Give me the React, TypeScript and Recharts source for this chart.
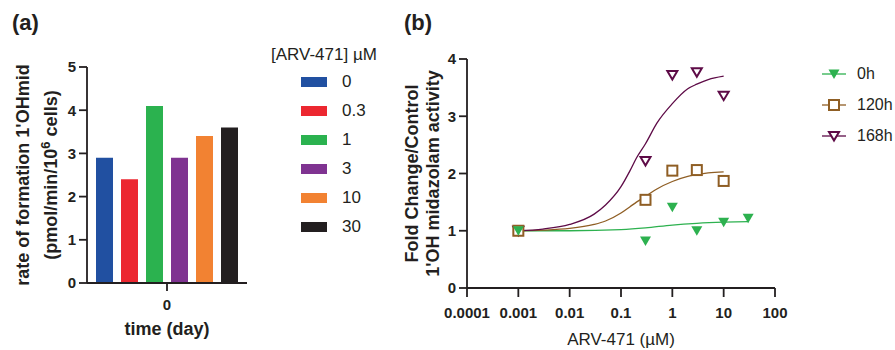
import React from "react";
import {
  BarChart,
  Bar,
  ComposedChart,
  Line,
  Scatter,
  XAxis,
  YAxis,
  Legend,
  Label,
} from "recharts";

// panel (a): rate of formation at day 0, one bar per ARV-471 concentration
const dayCategories = ["0"];
const concLabels = ["0", "0.3", "1", "3", "10", "30"];
const rateValues = [2.9, 2.4, 4.1, 2.9, 3.4, 3.6];
const barColors = ["#2150A1", "#EC2730", "#2BB24F", "#7F3391", "#F28232", "#231F20"];
const rateTicks = [0, 1, 2, 3, 4, 5];

// panel (b): fold change vs ARV-471 concentration
const dose0h = [0.001, 0.3, 1, 3, 10, 30];
const fold0h = [1.0, 0.82, 1.41, 1.0, 1.15, 1.22];
const dose120h = [0.001, 0.3, 1, 3, 10];
const fold120h = [1.0, 1.54, 2.05, 2.06, 1.87];
const dose168h = [0.001, 0.3, 1, 3, 10];
const fold168h = [1.0, 2.22, 3.72, 3.77, 3.36];

// fitted curves
const fitDose0h = [0.001, 0.01, 0.1, 0.3, 1, 3, 10, 30];
const fitFold0h = [1.0, 1.0, 1.02, 1.05, 1.1, 1.13, 1.15, 1.16];
const fitDose = [0.001, 0.003, 0.01, 0.03, 0.05, 0.1, 0.15, 0.2, 0.3, 0.5, 1, 2, 3, 5, 10];
const fitFold120h = [1.0, 1.01, 1.04, 1.11, 1.17, 1.31, 1.42, 1.5, 1.6, 1.73, 1.86, 1.95, 1.98, 2.01, 2.03];
const fitFold168h = [1.0, 1.03, 1.11, 1.29, 1.45, 1.77, 2.05, 2.27, 2.52, 2.88, 3.22, 3.48, 3.56, 3.64, 3.7];

const doseTicks = [0.0001, 0.001, 0.01, 0.1, 1, 10, 100];
const foldTicks = [0, 1, 2, 3, 4];

const font = "'Liberation Sans', Arial, Helvetica, sans-serif";
const ink = "#231F20";

const barData = dayCategories.map((day) => {
  const row: Record<string, any> = { day };
  concLabels.forEach((_, i) => {
    row["c" + i] = rateValues[i];
  });
  return row;
});

const toPoints = (xs: number[], ys: number[]) => xs.map((x, i) => ({ x, y: ys[i] }));

const series = [
  { name: "0h", color: "#2DB14F", kind: "filledTri", pts: toPoints(dose0h, fold0h), fit: toPoints(fitDose0h, fitFold0h) },
  { name: "120h", color: "#8F5E24", kind: "square", pts: toPoints(dose120h, fold120h), fit: toPoints(fitDose, fitFold120h) },
  { name: "168h", color: "#5E0B47", kind: "openTri", pts: toPoints(dose168h, fold168h), fit: toPoints(fitDose, fitFold168h) },
];

function marker(kind: string, color: string, cx: number, cy: number) {
  if (kind === "filledTri") {
    return (
      <polygon
        points={`${cx - 5.5},${cy - 4.5} ${cx + 5.5},${cy - 4.5} ${cx},${cy + 5}`}
        fill={color}
      />
    );
  }
  if (kind === "square") {
    return (
      <rect x={cx - 5} y={cy - 5} width={10} height={10} fill="#fff" stroke={color} strokeWidth={2} />
    );
  }
  return (
    <polygon
      points={`${cx - 5},${cy - 4} ${cx + 5},${cy - 4} ${cx},${cy + 4.5}`}
      fill="#fff"
      stroke={color}
      strokeWidth={2}
    />
  );
}

const tickStyle = { fontSize: 15, fontWeight: 700, fill: ink, fontFamily: font };

// two-line rotated axis title; baselines are offsets from the axis viewBox left edge
function yTitle(lines: React.ReactNode[], baselines: number[]) {
  return (props: any) => {
    const vb = props.viewBox || {};
    const cy = vb.y + vb.height / 2;
    return (
      <g>
        {lines.map((ln, i) => {
          const x = vb.x + baselines[i];
          return (
            <text
              key={i}
              x={x}
              y={cy}
              transform={`rotate(-90, ${x}, ${cy})`}
              textAnchor="middle"
              fontFamily={font}
              fontWeight={700}
              fontSize={18}
              fill={ink}
            >
              {ln}
            </text>
          );
        })}
      </g>
    );
  };
}

function xTitle(text: string, offset: number, bold: boolean) {
  return (props: any) => {
    const vb = props.viewBox || {};
    return (
      <text
        x={vb.x + vb.width / 2}
        y={vb.y + offset}
        textAnchor="middle"
        fontFamily={font}
        fontWeight={bold ? 700 : 400}
        fontSize={bold ? 18 : 17}
        fill={ink}
      >
        {text}
      </text>
    );
  };
}

const concLegend = (props: any) => (
  <div style={{ fontFamily: font, color: ink, textAlign: "left" }}>
    <div
      style={{ fontSize: 17, lineHeight: "20px", marginBottom: 2, marginLeft: 8, whiteSpace: "nowrap" }}
    >
      [ARV-471] µM
    </div>
    {(props.payload || []).map((entry: any, i: number) => (
      <div key={i} style={{ display: "flex", alignItems: "center", height: 29 }}>
        <span
          style={{ width: 26, height: 10, background: entry.color, marginLeft: 38, marginRight: 15 }}
        />
        <span style={{ fontSize: 17 }}>{entry.value}</span>
      </div>
    ))}
  </div>
);

const timeLegend = () => (
  <div style={{ fontFamily: font, color: ink, textAlign: "left" }}>
    {series.map((s) => (
      <div key={s.name} style={{ display: "flex", alignItems: "center", height: 31 }}>
        <svg width={24} height={14}>
          <line x1={0} x2={24} y1={7} y2={7} stroke={s.color} strokeWidth={1.3} />
          {marker(s.kind, s.color, 12, 7)}
        </svg>
        <span style={{ marginLeft: 11, fontSize: 16 }}>{s.name}</span>
      </div>
    ))}
  </div>
);

const panelLetter = (left: number): React.CSSProperties => ({
  position: "absolute",
  left,
  top: 12,
  fontFamily: font,
  fontWeight: 700,
  fontSize: 22,
  lineHeight: 1,
  color: ink,
});

export default function App() {
  return (
    <div style={{ position: "absolute", left: 0, top: 0, width: 895, height: 350, background: "#fff" }}>
      <div style={panelLetter(12)}>(a)</div>
      <div style={panelLetter(404)}>(b)</div>

      <div style={{ position: "absolute", left: 0, top: 0 }}>
        <BarChart
          width={400}
          height={350}
          data={barData}
          margin={{ top: 67, right: 153, bottom: 7, left: 0 }}
          barCategoryGap={9}
          barGap={8}
        >
          <XAxis
            dataKey="day"
            height={60}
            tick={tickStyle}
            tickSize={8}
            tickMargin={8}
            axisLine={{ stroke: ink, strokeWidth: 1.8 }}
            tickLine={{ stroke: ink, strokeWidth: 1.8 }}
          >
            <Label content={xTitle("time (day)", 52, true)} />
          </XAxis>
          <YAxis
            width={87}
            domain={[0, 5]}
            ticks={rateTicks}
            interval={0}
            tick={tickStyle}
            tickSize={8}
            tickMargin={3}
            axisLine={{ stroke: ink, strokeWidth: 1.8 }}
            tickLine={{ stroke: ink, strokeWidth: 1.8 }}
          >
            <Label
              content={yTitle(
                [
                  "rate of formation 1'OHmid",
                  <>
                    <tspan>(pmol/min/10</tspan>
                    <tspan dy={-7} fontSize={13}>6</tspan>
                    <tspan dy={7}> cells)</tspan>
                  </>,
                ],
                [28.5, 57]
              )}
            />
          </YAxis>
          {concLabels.map((c, i) => (
            <Bar
              key={"b" + i}
              dataKey={"c" + i}
              name={c}
              fill={barColors[i]}
              isAnimationActive={false}
            />
          ))}
          <Legend
            layout="vertical"
            align="center"
            verticalAlign="middle"
            itemSorter="dataKey"
            content={concLegend}
            wrapperStyle={{ position: "absolute", left: 263, top: 45, width: 140, height: 200 }}
          />
        </BarChart>
      </div>

      <div style={{ position: "absolute", left: 400, top: 0 }}>
        <ComposedChart width={495} height={350} margin={{ top: 59, right: 120, bottom: 12, left: 0 }}>
          <XAxis
            type="number"
            dataKey="x"
            scale="log"
            domain={[0.0001, 100]}
            ticks={doseTicks}
            interval={0}
            allowDataOverflow
            tickFormatter={(v: number) => String(v)}
            height={50}
            tick={tickStyle}
            tickSize={9}
            tickMargin={10}
            axisLine={{ stroke: ink, strokeWidth: 1.8 }}
            tickLine={{ stroke: ink, strokeWidth: 1.8 }}
          >
            <Label content={xTitle("ARV-471 (µM)", 57, false)} />
          </XAxis>
          <YAxis
            type="number"
            dataKey="y"
            width={67}
            domain={[0, 4]}
            ticks={foldTicks}
            interval={0}
            tick={tickStyle}
            tickSize={8}
            tickMargin={3}
            axisLine={{ stroke: ink, strokeWidth: 1.8 }}
            tickLine={{ stroke: ink, strokeWidth: 1.8 }}
          >
            <Label
              content={yTitle(["Fold Change/Control", "1'OH midazolam activity"], [17.7, 39.3])}
            />
          </YAxis>
          {series.map((s) => (
            <Line
              key={"fit" + s.name}
              data={s.fit}
              dataKey="y"
              type="monotone"
              stroke={s.color}
              strokeWidth={1.3}
              dot={false}
              activeDot={false}
              legendType="none"
              isAnimationActive={false}
            />
          ))}
          {[...series].reverse().map((s) => (
            <Scatter
              key={"pts" + s.name}
              name={s.name}
              data={s.pts}
              dataKey="y"
              fill={s.color}
              isAnimationActive={false}
              shape={(p: any) => marker(s.kind, s.color, p.cx, p.cy)}
            />
          ))}
          <Legend
            layout="vertical"
            align="center"
            verticalAlign="middle"
            content={timeLegend}
            wrapperStyle={{ position: "absolute", left: 422, top: 58, width: 80, height: 100 }}
          />
        </ComposedChart>
      </div>
    </div>
  );
}
